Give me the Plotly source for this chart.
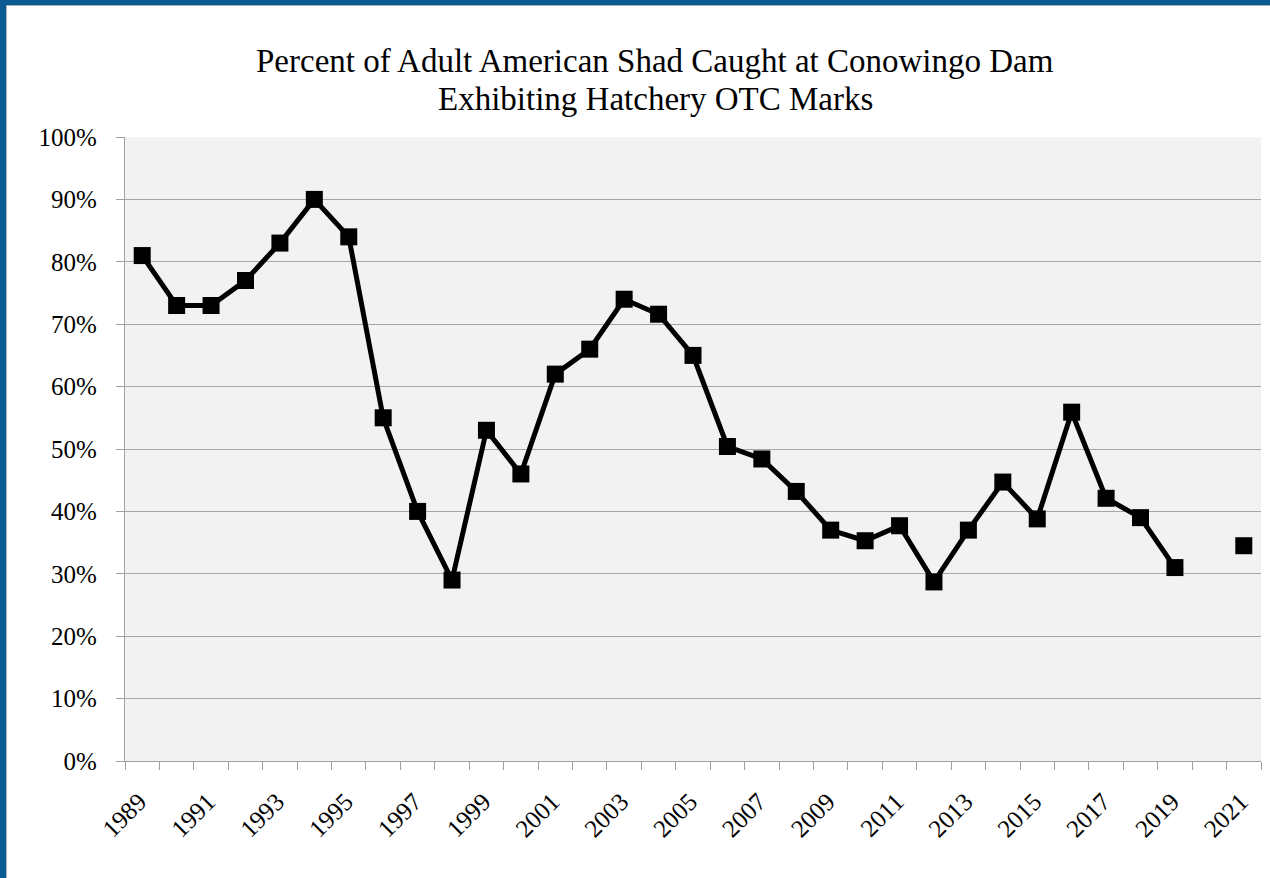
import plotly.graph_objects as go

years = list(range(1989, 2022))
pct_marked = [81, 73, 73, 77, 83, 90, 84, 55, 40, 29, 53, 46, 62, 66, 74, 71.6, 65,
              50.4, 48.4, 43.2, 37, 35.3, 37.7, 28.7, 37, 44.7, 38.8, 55.9, 42.1, 39,
              31, None, 34.5]
label_years = [y for y in years if (y - 1989) % 2 == 0]
title_line1 = "Percent of Adult American Shad Caught at Conowingo Dam"
title_line2 = "Exhibiting Hatchery OTC Marks"

W, H = 1270, 878
L, R, T, B = 125, 1261, 137, 761

def px(x):
    return (x - L) / (R - L)

def py(y):
    return (B - y) / (B - T)

FONT = "Liberation Serif, Times New Roman, serif"
BLUE = "#0b5a95"
AXIS = "#a0a0a0"
GRID = "#a6a6a6"

fig = go.Figure()
fig.add_trace(go.Scatter(
    x=years,
    y=[None if v is None else v / 100 for v in pct_marked],
    mode="lines+markers",
    line=dict(color="black", width=5),
    marker=dict(symbol="square", size=17, color="black"),
    connectgaps=False,
    showlegend=False,
    hoverinfo="x+y",
))

fig.update_layout(
    width=W, height=H, autosize=False,
    margin=dict(l=L, r=W - R, t=T, b=H - B, pad=0),
    paper_bgcolor="white",
    plot_bgcolor="#f2f2f2",
    font=dict(family=FONT, size=25, color="black"),
    showlegend=False,
)

fig.update_xaxes(
    range=[years[0] - 0.5, years[-1] + 0.5],
    tickmode="array",
    tickvals=label_years,
    ticktext=[str(y) for y in label_years],
    tickangle=-45,
    ticks="",
    showgrid=False,
    zeroline=False,
    showline=True, linecolor=AXIS, linewidth=1.3,
    tickfont=dict(family=FONT, size=25, color="black"),
    ticklabelstandoff=15,
    ticklabelshift=-3,
    minor=dict(tickmode="linear", tick0=years[0] - 0.5, dtick=1,
               ticks="outside", ticklen=8, tickcolor=AXIS, tickwidth=1.3,
               showgrid=False),
)

fig.update_yaxes(
    range=[0, 1],
    tickmode="linear", tick0=0, dtick=0.1,
    tickformat=".0%",
    ticks="outside", ticklen=8, tickcolor=AXIS, tickwidth=1.3,
    showgrid=True, gridcolor=GRID, gridwidth=1.3,
    zeroline=False,
    showline=True, linecolor=AXIS, linewidth=1.3,
    tickfont=dict(family=FONT, size=25, color="black"),
    ticklabelstandoff=14,
)

fig.add_annotation(text=title_line1, x=px(655), y=py(61), xref="paper", yref="paper",
                   xanchor="center", yanchor="middle", showarrow=False,
                   font=dict(family=FONT, size=33, color="black"))
fig.add_annotation(text=title_line2, x=px(655), y=py(99), xref="paper", yref="paper",
                   xanchor="center", yanchor="middle", showarrow=False,
                   font=dict(family=FONT, size=33, color="black"))

# slide frame: blue band on top and left with thin gray inner edge
fig.add_shape(type="rect", xref="paper", yref="paper", layer="above",
              x0=px(0), x1=px(6), y0=py(H), y1=py(0),
              fillcolor=BLUE, line=dict(width=0))
fig.add_shape(type="rect", xref="paper", yref="paper", layer="above",
              x0=px(0), x1=px(W), y0=py(5), y1=py(0),
              fillcolor=BLUE, line=dict(width=0))
fig.add_shape(type="line", xref="paper", yref="paper", layer="above",
              x0=px(6.5), x1=px(6.5), y0=py(H), y1=py(5),
              line=dict(color="#b0b0b0", width=1))
fig.add_shape(type="line", xref="paper", yref="paper", layer="above",
              x0=px(6), x1=px(W), y0=py(5.5), y1=py(5.5),
              line=dict(color="#b0b0b0", width=1))

fig.write_html(
    "out.html",
    config={"displayModeBar": False},
    post_script="document.body.style.margin='0px';document.body.style.overflow='hidden';",
)
